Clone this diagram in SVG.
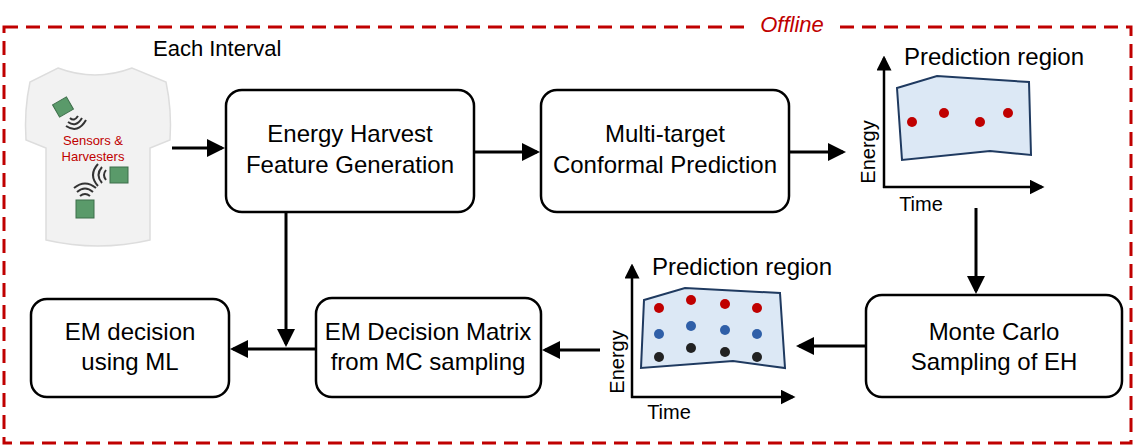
<svg xmlns="http://www.w3.org/2000/svg" width="1136" height="448" viewBox="0 0 1136 448">
<style>
text{font-family:"Liberation Sans",Arial,sans-serif;fill:#000}
.box{fill:#fff;stroke:#000;stroke-width:2.5}
.t{font-size:24px;text-anchor:middle}
.c{stroke:#000;stroke-width:3;fill:none;marker-end:url(#ah)}
.ax{stroke:#000;stroke-width:2.5;fill:none;marker-end:url(#ah2)}
.reg{fill:#dce8f5;stroke:#1f3a60;stroke-width:2}
.chip{fill:#5a9a6a;stroke:#3d6e4a;stroke-width:1}
.wave{fill:none;stroke:#333;stroke-width:2}
</style>
<defs>
<marker id="ah" markerWidth="6" markerHeight="6" refX="5" refY="3" orient="auto" markerUnits="strokeWidth"><path d="M0,0 L6,3 L0,6 z" fill="#000"/></marker>
<marker id="ah2" markerWidth="6" markerHeight="6" refX="5" refY="3" orient="auto" markerUnits="strokeWidth"><path d="M0,0 L6,3 L0,6 z" fill="#000"/></marker>
</defs>
<rect x="4" y="27" width="1127" height="416" fill="none" stroke="#c00000" stroke-width="3" stroke-dasharray="14,8"/>
<rect x="752" y="14" width="82" height="24" fill="#fff"/>
<text x="792" y="32" font-size="22" font-style="italic" style="fill:#c00000" text-anchor="middle">Offline</text>
<text x="153" y="56" font-size="22">Each Interval</text>
<g id="shirt">
<path d="M58,68 Q95,82 132,68 L166,82 Q172,110 170,140 L150,148 L150,240 Q98,252 46,240 L46,148 L26,140 Q24,110 30,82 Z" fill="#f2f2f2" stroke="#ddd" stroke-width="1.5"/>
<rect x="55" y="100" width="16" height="14" class="chip" transform="rotate(-30 63 107)"/>
<path class="wave" d="M70,118 q4,4 8,-2 M68,122 q8,6 14,-4 M66,126 q12,8 20,-6"/>
<text x="93" y="145" font-size="13" text-anchor="middle" style="fill:#c00000">Sensors &amp;</text>
<text x="93" y="161" font-size="13" text-anchor="middle" style="fill:#c00000">Harvesters</text>
<rect x="110" y="167" width="18" height="16" class="chip"/>
<path class="wave" d="M106,170 q-4,5 0,10 M102,167 q-7,8 0,16 M98,164 q-10,11 0,22"/>
<rect x="76" y="200" width="18" height="18" class="chip"/>
<path class="wave" d="M80,196 q5,-4 10,0 M77,192 q8,-7 16,0 M74,188 q11,-9 22,0"/>
</g>
<g id="eh"><rect class="box" x="226" y="90" width="248" height="122" rx="16"/>
<text class="t" x="350" y="142">Energy Harvest</text><text class="t" x="350" y="173">Feature Generation</text></g>
<g id="mt"><rect class="box" x="541" y="90" width="248" height="122" rx="16"/>
<text class="t" x="665" y="142">Multi-target</text><text class="t" x="665" y="173">Conformal Prediction</text></g>
<g id="mc"><rect class="box" x="866" y="295" width="256" height="102" rx="16"/>
<text class="t" x="994" y="340">Monte Carlo</text><text class="t" x="994" y="370">Sampling of EH</text></g>
<g id="mat"><rect class="box" x="316" y="298" width="225" height="99" rx="16"/>
<text class="t" x="428" y="340">EM Decision Matrix</text><text class="t" x="428" y="370">from MC sampling</text></g>
<g id="emd"><rect class="box" x="31" y="299" width="198" height="98" rx="16"/>
<text class="t" x="130" y="340">EM decision</text><text class="t" x="130" y="370">using ML</text></g>
<g id="chart1">
<path class="ax" d="M884,188 V58"/><path class="ax" d="M883,187 H1042"/>
<path class="reg" d="M897,88 L937,76 L1029,82 L1031,155 L990,151 L902,160 Z"/>
<g fill="#c00000"><circle cx="912" cy="122" r="5"/><circle cx="944" cy="113" r="5"/><circle cx="980" cy="122" r="5"/><circle cx="1008" cy="113" r="5"/></g>
<text x="994" y="65" font-size="24" text-anchor="middle">Prediction region</text>
<text x="921" y="211" font-size="20" text-anchor="middle">Time</text>
<text font-size="20" text-anchor="middle" transform="translate(875,152) rotate(-90)">Energy</text>
</g>
<g id="chart2">
<path class="ax" d="M632,398 V266"/><path class="ax" d="M631,397 H793"/>
<path class="reg" d="M644,300 L685,288 L780,293 L785,368 L733,361 L641,368 Z"/>
<g fill="#c00000"><circle cx="659" cy="308" r="5"/><circle cx="691" cy="300" r="5"/><circle cx="725" cy="304" r="5"/><circle cx="757" cy="308" r="5"/></g>
<g fill="#2f5fa8"><circle cx="659" cy="334" r="5"/><circle cx="691" cy="326" r="5"/><circle cx="725" cy="330" r="5"/><circle cx="757" cy="334" r="5"/></g>
<g fill="#222"><circle cx="659" cy="357" r="5"/><circle cx="691" cy="348" r="5"/><circle cx="725" cy="352" r="5"/><circle cx="757" cy="357" r="5"/></g>
<text x="742" y="275" font-size="24" text-anchor="middle">Prediction region</text>
<text x="669" y="419" font-size="20" text-anchor="middle">Time</text>
<text font-size="20" text-anchor="middle" transform="translate(624,362) rotate(-90)">Energy</text>
</g>
<g id="connectors">
<path class="c" d="M172,148 H222"/>
<path class="c" d="M474,152 H537"/>
<path class="c" d="M789,152 H843"/>
<path class="c" d="M976,208 V291"/>
<path class="c" d="M866,346 H799"/>
<path class="c" d="M600,350 H545"/>
<path class="c" d="M316,349 H233"/>
<path class="c" d="M286,212 V344"/>
</g>
</svg>
